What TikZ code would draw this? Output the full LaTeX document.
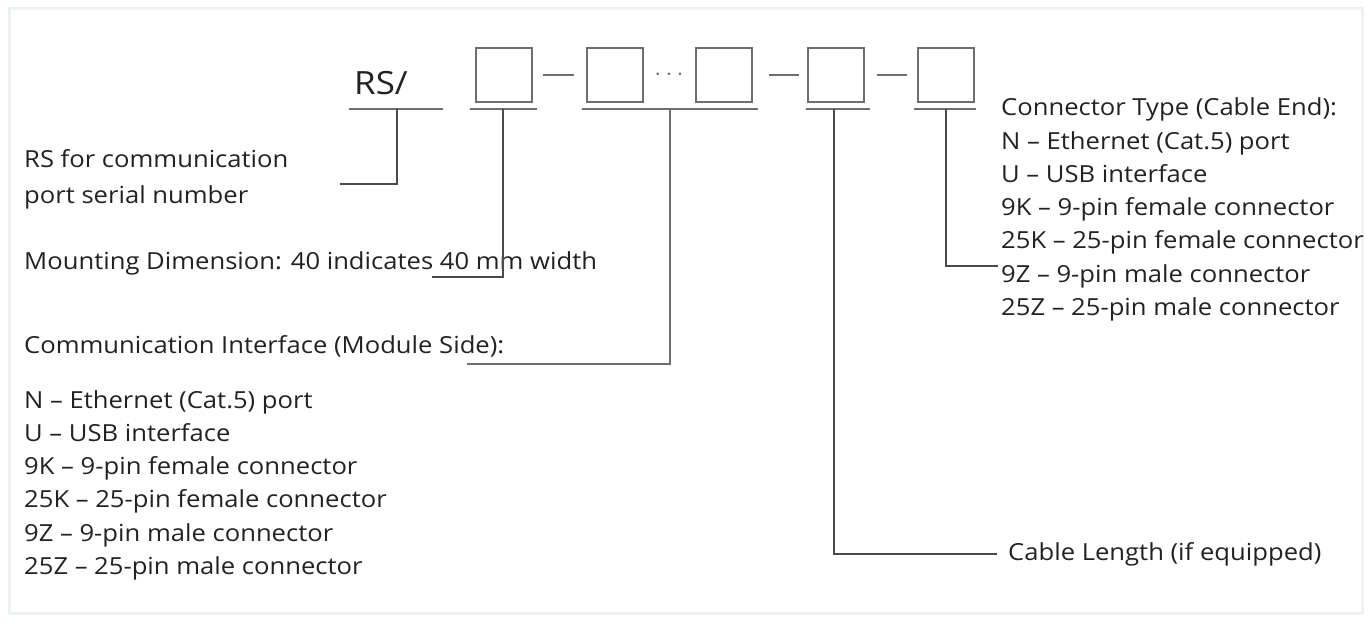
\documentclass[tikz,border=0pt]{standalone}
\usepackage{fontspec}
\setmainfont{Open Sans}[FakeStretch=1.09]
\usetikzlibrary{calc}
\definecolor{textc}{HTML}{222222}
\definecolor{boxc}{HTML}{6E6E6E}
\definecolor{linec}{HTML}{4A4A4A}
\definecolor{framec}{HTML}{EEF3F1}
\begin{document}
\begin{tikzpicture}[x=1pt,y=-1pt,
  txt/.style={anchor=base west, inner sep=0pt, text=textc, font=\fontsize{23.5}{28}\selectfont},
  big/.style={anchor=base west, inner sep=0pt, text=textc, font=\fontsize{32}{36}\selectfont},
  box/.style={draw=boxc, line width=2pt, minimum width=56pt, minimum height=54pt, inner sep=0pt},
  lead/.style={draw=linec, line width=1.8pt},
  uline/.style={draw=boxc, line width=2pt},
  sep/.style={draw=boxc, line width=1.8pt}]
\useasboundingbox (0,0) rectangle (1371,626);
\fill[white] (0,0) rectangle (1371,626);
\draw[framec, line width=3pt] (9,9) rectangle (1362,613);

% code boxes
\node[big] (rs) at (354,95) {RS/};
\node[box] (b1) at (504,75) {};
\node[box] (b2) at (614.5,75) {};
\node[box] (b3) at (723.5,75) {};
\node[box] (b4) at (836,75) {};
\node[box] (b5) at (946,75) {};
\draw[sep] ([xshift=10pt]b1.east) -- ([xshift=-12pt]b2.west);
\node[text=linec!80, inner sep=0pt, font=\fontsize{24}{24}\selectfont] (dots) at ($(b2.east)!0.5!(b3.west)$) {$\cdots$};
\draw[sep] ([xshift=16pt]b3.east) -- ([xshift=-8pt]b4.west);
\draw[sep] ([xshift=12pt]b4.east) -- ([xshift=-10pt]b5.west);

% underlines
\coordinate (r0) at (349,109); \coordinate (r1) at (443,109);
\coordinate (a0) at (470,109); \coordinate (a1) at (537,109);
\coordinate (c0) at (582,109); \coordinate (c1) at (758,109);
\coordinate (d0) at (806,109); \coordinate (d1) at (870,109);
\coordinate (e0) at (914,109); \coordinate (e1) at (976,109);
\draw[uline] (r0) -- (r1);
\draw[uline] (a0) -- (a1);
\draw[uline] (c0) -- (c1);
\draw[uline] (d0) -- (d1);
\draw[uline] (e0) -- (e1);

% texts
\node[txt] (t1) at (24,167) {RS for communication};
\node[txt] (t1b) at (24,203) {port serial number};
\node[txt] (t2) at (24,269) {Mounting Dimension: 40 indicates 40 mm width};
\node[txt] (t3) at (24,353) {Communication Interface (Module Side):};
\node[txt] (l1) at (24,408) {N – Ethernet (Cat.5) port};
\node[txt] (l2) at (24,441) {U – USB interface};
\node[txt] (l3) at (24,474.5) {9K – 9-pin female connector};
\node[txt] (l4) at (24,507.5) {25K – 25-pin female connector};
\node[txt] (l5) at (24,541) {9Z – 9-pin male connector};
\node[txt] (l6) at (24,574) {25Z – 25-pin male connector};

\node[txt] (k0) at (1001,115.5) {Connector Type (Cable End):};
\node[txt] (k1) at (1001,149) {N – Ethernet (Cat.5) port};
\node[txt] (k2) at (1001,182) {U – USB interface};
\node[txt] (k3) at (1001,215.5) {9K – 9-pin female connector};
\node[txt] (k4) at (1001,248.5) {25K – 25-pin female connector};
\node[txt] (k5) at (1001,282) {9Z – 9-pin male connector};
\node[txt] (k6) at (1001,315) {25Z – 25-pin male connector};

\node[txt] (cl) at (1008,560) {Cable Length (if equipped)};

% leaders
\coordinate (q1) at (397,109); \coordinate (p1) at (397,184); \coordinate (p1e) at (340,184);
\draw[lead] (q1) -- (p1) -- (p1e);
\coordinate (q2) at (503,109); \coordinate (p2) at (503,277); \coordinate (p2e) at (432,277);
\draw[lead] (q2) -- (p2) -- (p2e);
\coordinate (q3) at (670,109); \coordinate (p3) at (670,364); \coordinate (p3e) at (467,364);
\draw[lead, draw=boxc] (q3) -- (p3) -- (p3e);
\coordinate (q4) at (834,109); \coordinate (p4) at (834,554); \coordinate (p4e) at (997,554);
\draw[lead] (q4) -- (p4) -- (p4e);
\coordinate (q5) at (946,109); \coordinate (p5) at (946,266); \coordinate (p5e) at (998,266);
\draw[lead] (q5) -- (p5) -- (p5e);
\end{tikzpicture}
\end{document}
